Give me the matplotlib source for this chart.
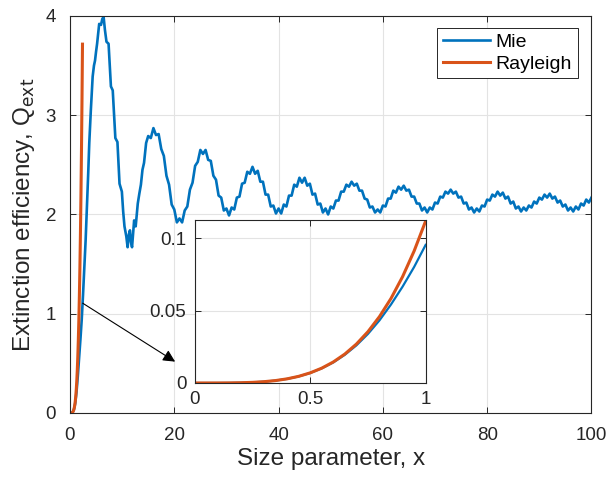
import numpy as np
import matplotlib
matplotlib.use('Agg')
import matplotlib.pyplot as plt

plt.rcParams['font.family'] = ['Liberation Sans', 'DejaVu Sans']

# Mie extinction efficiency, small x part
mie_x_low = [0, 0.25, 0.5, 0.75, 1.0, 1.25, 1.5, 1.75, 2.0, 2.25, 2.5, 2.75, 3.0, 3.3,
             3.5, 3.7, 4.0, 4.35, 4.6, 4.8, 5.0, 5.2, 5.6, 5.95, 6.2, 6.45, 6.7, 7.0,
             7.4, 7.85, 8.2, 8.7, 9.1, 9.5, 9.95, 10.2, 10.45, 10.8, 11.05, 11.3, 11.5,
             11.7, 11.9, 12.3, 12.6, 13.0, 13.3, 13.6, 13.9, 14.2, 14.6]
mie_q_low = [0, 0.0004, 0.0068, 0.033, 0.0955, 0.21, 0.37, 0.55, 0.74, 0.94, 1.19, 1.47,
             1.74, 2.14, 2.42, 2.72, 3.05, 3.39, 3.50, 3.55, 3.64, 3.72, 3.92, 3.91, 3.97,
             3.99, 3.86, 3.74, 3.72, 3.29, 3.25, 2.77, 2.73, 2.31, 2.23, 2.03, 1.88, 1.78,
             1.67, 1.80, 1.84, 1.72, 1.67, 1.94, 1.88, 2.11, 2.21, 2.30, 2.45, 2.52, 2.72]

# x = 15 ... 100 in steps of 0.5
mie_q_high = [2.79, 2.77, 2.87, 2.80, 2.81, 2.66, 2.59, 2.39, 2.30, 2.10, 2.05, 1.92,
              1.96, 1.92, 2.04, 2.08, 2.25, 2.32, 2.49, 2.53, 2.65, 2.61, 2.65, 2.55,
              2.54, 2.39, 2.35, 2.19, 2.17, 2.04, 2.06, 1.99, 2.07, 2.05, 2.17, 2.18,
              2.31, 2.32, 2.43, 2.41, 2.48, 2.41, 2.44, 2.33, 2.33, 2.20, 2.20, 2.08,
              2.09, 2.01, 2.06, 2.01, 2.10, 2.08, 2.19, 2.19, 2.30, 2.28, 2.37, 2.32,
              2.37, 2.29, 2.31, 2.20, 2.21, 2.10, 2.11, 2.02, 2.06, 2.00, 2.08, 2.06,
              2.14, 2.14, 2.23, 2.23, 2.30, 2.28, 2.33, 2.29, 2.31, 2.24, 2.24, 2.16,
              2.15, 2.07, 2.08, 2.02, 2.05, 2.02, 2.09, 2.08, 2.16, 2.16, 2.24, 2.22,
              2.28, 2.25, 2.29, 2.24, 2.25, 2.18, 2.18, 2.11, 2.11, 2.04, 2.07, 2.02,
              2.07, 2.05, 2.12, 2.11, 2.18, 2.17, 2.23, 2.21, 2.25, 2.21, 2.23, 2.17,
              2.18, 2.11, 2.12, 2.05, 2.07, 2.02, 2.06, 2.03, 2.09, 2.08, 2.15, 2.14,
              2.20, 2.18, 2.23, 2.19, 2.22, 2.16, 2.18, 2.11, 2.13, 2.06, 2.08, 2.03,
              2.07, 2.04, 2.09, 2.07, 2.13, 2.11, 2.17, 2.15, 2.20, 2.17, 2.21, 2.16,
              2.18, 2.12, 2.14, 2.08, 2.10, 2.04, 2.07, 2.03, 2.08, 2.05, 2.11, 2.09,
              2.15, 2.12, 2.17]
mie_x_high = np.arange(15, 100.25, 0.5)

# Rayleigh approximation
ray_x = [0, 0.1, 0.2, 0.3, 0.4, 0.5, 0.6, 0.7, 0.8, 0.9, 1.0, 1.1, 1.2, 1.3, 1.4, 1.5,
         1.6, 1.7, 1.8, 1.9, 2.0, 2.1, 2.2, 2.3, 2.4]
ray_q = [0, 0.00001, 0.00018, 0.0009, 0.0029, 0.007, 0.0145, 0.0269, 0.0459, 0.0735,
         0.112, 0.164, 0.232, 0.320, 0.430, 0.567, 0.734, 0.935, 1.176, 1.460, 1.792,
         2.178, 2.623, 3.134, 3.716]

# inset, 0 <= x <= 1
ins_x = [0, 0.05, 0.1, 0.15, 0.2, 0.25, 0.3, 0.35, 0.4, 0.45, 0.5, 0.55, 0.6, 0.65,
         0.7, 0.75, 0.8, 0.85, 0.9, 0.95, 1.0]
ins_mie = [0, 0.0000007, 0.000011, 0.000057, 0.00018, 0.00044, 0.0009, 0.00167, 0.00284,
           0.00453, 0.0069, 0.0101, 0.0142, 0.0195, 0.0260, 0.0339, 0.0433, 0.0543,
           0.0666, 0.0802, 0.0955]
ins_ray = [0, 0.0000007, 0.000011, 0.000057, 0.00018, 0.00044, 0.00091, 0.00168,
           0.00287, 0.00459, 0.0070, 0.01025, 0.01452, 0.0200, 0.02689, 0.03544,
           0.04588, 0.05846, 0.07348, 0.09122, 0.1120]

blue = '#0072BD'
orange = '#D95319'
spine_c = '#262626'
grid_c = '#e3e3e3'

mie_x = np.concatenate([mie_x_low, mie_x_high])
mie_q = np.concatenate([mie_q_low, mie_q_high])

fig = plt.figure(figsize=(6.08, 4.82), dpi=100)
ax = fig.add_axes([0.1151, 0.1432, 0.8577, 0.8237])
ax.plot(mie_x, mie_q, color=blue, lw=1.9, label='Mie')
ax.plot(ray_x, ray_q, color=orange, lw=2.2, label='Rayleigh')
ax.set_xlim(0, 100)
ax.set_ylim(0, 4)
ax.set_xticks([0, 20, 40, 60, 80, 100])
ax.set_yticks([0, 1, 2, 3, 4])
ax.grid(True, color=grid_c, lw=0.8)
ax.set_axisbelow(True)
ax.tick_params(direction='in', length=4, width=0.7, top=True, right=True,
               labelsize=13.5, colors=spine_c, pad=10)
for s in ax.spines.values():
    s.set_color(spine_c)
    s.set_linewidth(0.8)
ax.set_xlabel('Size parameter, x', fontsize=17.5, color=spine_c, labelpad=3)
ax.set_ylabel('Extinction efficiency, Q$_{\\rm ext}$', fontsize=17.5, color=spine_c,
              labelpad=6)
leg = ax.legend(loc='upper right', bbox_to_anchor=(0.9735, 0.9705), fontsize=14,
                fancybox=False, framealpha=1, edgecolor=spine_c, handlelength=2.4,
                handletextpad=0.3, borderpad=0.3, labelspacing=0.2, borderaxespad=0)
leg.get_frame().set_linewidth(0.7)

axin = fig.add_axes([0.3202, 0.2054, 0.3799, 0.3382])
axin.plot(ins_x, ins_mie, color=blue, lw=1.6)
axin.plot(ins_x, ins_ray, color=orange, lw=2.2)
axin.set_xlim(0, 1)
axin.set_ylim(0, 0.1127)
axin.set_xticks([0, 0.5, 1])
axin.set_xticklabels(['0', '0.5', '1'])
axin.set_yticks([0, 0.05, 0.1])
axin.set_yticklabels(['0', '0.05', '0.1'])
axin.grid(True, color=grid_c, lw=0.8)
axin.set_axisbelow(True)
axin.tick_params(direction='in', length=4, width=0.7, top=True, right=True,
                 labelsize=13.5, colors=spine_c, pad=6)
for s in axin.spines.values():
    s.set_color(spine_c)
    s.set_linewidth(0.8)

ax.annotate('', xy=(0.288, 0.2497), xycoords='figure fraction',
            xytext=(0.136, 0.371), textcoords='figure fraction',
            arrowprops=dict(arrowstyle='-|>', color='k', lw=0.8, mutation_scale=18,
                            shrinkA=0, shrinkB=0))

fig.savefig('out.png', dpi=100)
